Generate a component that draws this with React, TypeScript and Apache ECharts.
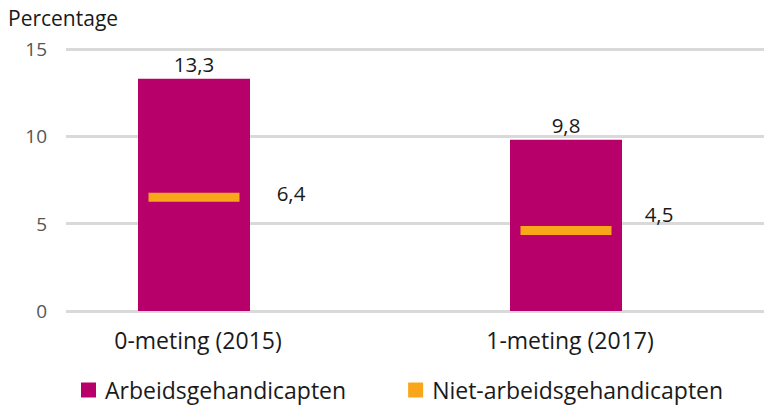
import React, { useEffect, useRef } from "react";
import * as echarts from "echarts";

const categories = ["0-meting (2015)", "1-meting (2017)"];
const arbeidsgehandicapten = [13.3, 9.8];
const nietArbeidsgehandicapten = [6.4, 4.5];
const yTicks = [0, 5, 10, 15];

const MAGENTA = "#B8006B";
const ORANGE = "#FAA61A";
const FONT = "Open Sans";
const TEXT = "#1a1a1a";

const fmt = (v: number) => v.toFixed(1).replace(".", ",");

export default function App() {
  const ref = useRef<HTMLDivElement>(null);
  useEffect(() => {
    if (!ref.current) return;
    const chart = echarts.init(ref.current, undefined, { renderer: "svg" });
    const top = 49;
    const bottom = 407 - 311;
    chart.setOption({
      animation: false,
      textStyle: { fontFamily: FONT },
      title: {
        text: "Percentage",
        left: 3,
        top: 2,
        textStyle: { fontFamily: FONT, fontSize: 21, fontWeight: "normal", color: TEXT },
      },
      legend: {
        bottom: -1,
        left: 76,
        itemGap: 62,
        itemWidth: 15,
        itemHeight: 15,
        icon: "rect",
        textStyle: { fontFamily: FONT, fontSize: 23, lineHeight: 26, color: TEXT, padding: [0, 0, 0, 4] },
        data: ["Arbeidsgehandicapten", "Niet-arbeidsgehandicapten"],
      },
      grid: [
        { left: 66, right: 0, top, bottom },
        { left: 8, right: 12, top, bottom },
      ],
      xAxis: [
        { type: "category", gridIndex: 0, data: categories, show: false },
        {
          type: "category",
          gridIndex: 1,
          data: categories,
          axisLine: { show: false },
          axisTick: { show: false },
          axisLabel: { fontFamily: FONT, fontSize: 23, color: TEXT, margin: 17, padding: [0, 0, 0, 8] },
        },
      ],
      yAxis: [
        {
          type: "value",
          gridIndex: 0,
          min: yTicks[0],
          max: yTicks[yTicks.length - 1],
          interval: 5,
          axisLine: { show: false },
          axisTick: { show: false },
          splitLine: { lineStyle: { color: "#d9d9d9", width: 3 } },
          axisLabel: { fontFamily: FONT, fontSize: 19, color: "#555", margin: 19 },
        },
        {
          type: "value",
          gridIndex: 1,
          min: 0,
          max: 15,
          interval: 5,
          show: false,
          splitLine: { show: false },
        },
      ],
      series: [
        {
          name: "Arbeidsgehandicapten",
          type: "bar",
          xAxisIndex: 1,
          yAxisIndex: 1,
          barWidth: 112,
          itemStyle: { color: MAGENTA },
          data: arbeidsgehandicapten,
          label: {
            show: true,
            position: "top",
            distance: 4,
            fontFamily: FONT,
            fontSize: 20.5,
            color: TEXT,
            formatter: (p: any) => fmt(p.value),
          },
          z: 2,
        },
        {
          name: "Niet-arbeidsgehandicapten",
          type: "scatter",
          xAxisIndex: 1,
          yAxisIndex: 1,
          symbol: "rect",
          symbolSize: [91, 9],
          symbolOffset: [0, -2],
          itemStyle: { color: ORANGE, opacity: 1 },
          data: nietArbeidsgehandicapten.map((v, i) => ({
            value: v,
            label: { offset: i === 0 ? [97, -4] : [93, -16] },
          })),
          label: {
            show: true,
            position: "inside",
            fontFamily: FONT,
            fontSize: 20.5,
            color: TEXT,
            textBorderWidth: 0,
            formatter: (p: any) => fmt(p.value),
          },
          z: 3,
        },
      ],
    });
    return () => chart.dispose();
  }, []);
  return <div ref={ref} style={{ width: 764, height: 407, position: "absolute", left: 0, top: 0 }} />;
}
